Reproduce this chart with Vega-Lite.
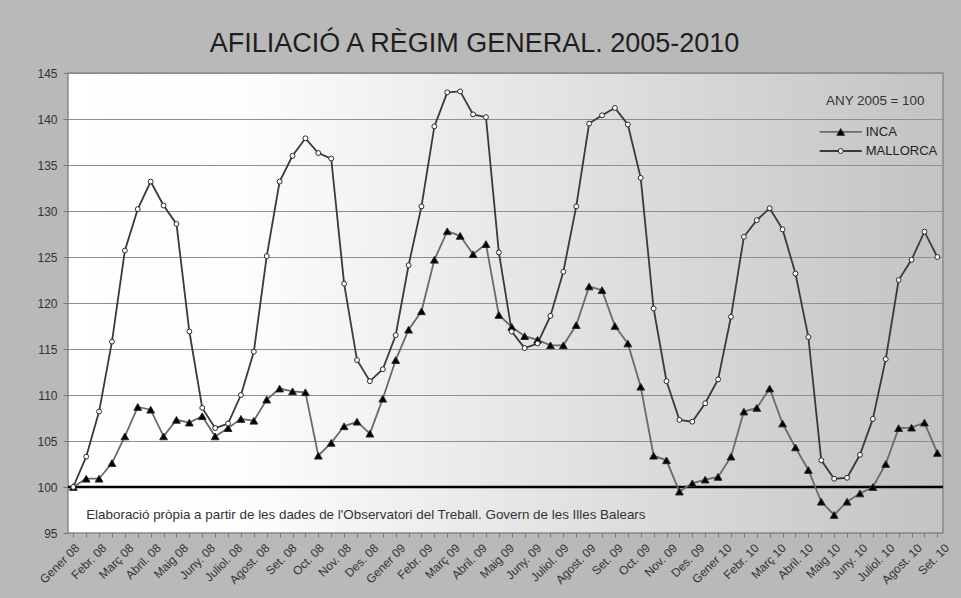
{
  "$schema": "https://vega.github.io/schema/vega-lite/v6.json",
  "width": 875,
  "height": 460,
  "autosize": "none",
  "padding": {"left": 68, "top": 73, "right": 18, "bottom": 65},
  "background": "#b9b9b9",
  "title": {
    "text": "AFILIACIÓ A RÈGIM GENERAL. 2005-2010",
    "font": "Liberation Sans",
    "fontSize": 27,
    "fontWeight": "normal",
    "color": "#1e1e1e",
    "anchor": "middle",
    "dx": -31,
    "offset": 9
  },
  "view": {
    "fill": {
      "gradient": "linear", "x1": 0, "y1": 0, "x2": 1, "y2": 0,
      "stops": [
        {"offset": 0, "color": "#ffffff"},
        {"offset": 0.2, "color": "#fdfdfd"},
        {"offset": 1, "color": "#c3c3c3"}
      ]
    },
    "stroke": "#8a8a8a",
    "strokeWidth": 1.5
  },
  "config": {
    "axisY": {
      "grid": true, "gridColor": "#8f8f8f", "gridWidth": 1,
      "domain": false, "tickColor": "#777777", "tickSize": 5,
      "labelFont": "Liberation Sans", "labelFontSize": 12, "labelColor": "#333333",
      "labelPadding": 6, "tickCount": 10
    }
  },
  "data": {
    "values": [
      {"mes": 0, "INCA": 100.0, "MALLORCA": 100.0},
      {"mes": 1, "INCA": 100.9, "MALLORCA": 103.3},
      {"mes": 2, "INCA": 100.9, "MALLORCA": 108.2},
      {"mes": 3, "INCA": 102.6, "MALLORCA": 115.8},
      {"mes": 4, "INCA": 105.5, "MALLORCA": 125.7},
      {"mes": 5, "INCA": 108.7, "MALLORCA": 130.2},
      {"mes": 6, "INCA": 108.4, "MALLORCA": 133.2},
      {"mes": 7, "INCA": 105.5, "MALLORCA": 130.6},
      {"mes": 8, "INCA": 107.3, "MALLORCA": 128.6},
      {"mes": 9, "INCA": 107.0, "MALLORCA": 116.9},
      {"mes": 10, "INCA": 107.7, "MALLORCA": 108.6},
      {"mes": 11, "INCA": 105.5, "MALLORCA": 106.4},
      {"mes": 12, "INCA": 106.4, "MALLORCA": 106.9},
      {"mes": 13, "INCA": 107.4, "MALLORCA": 110.0},
      {"mes": 14, "INCA": 107.2, "MALLORCA": 114.7},
      {"mes": 15, "INCA": 109.5, "MALLORCA": 125.1},
      {"mes": 16, "INCA": 110.7, "MALLORCA": 133.2},
      {"mes": 17, "INCA": 110.4, "MALLORCA": 136.0},
      {"mes": 18, "INCA": 110.3, "MALLORCA": 137.9},
      {"mes": 19, "INCA": 103.4, "MALLORCA": 136.3},
      {"mes": 20, "INCA": 104.8, "MALLORCA": 135.7},
      {"mes": 21, "INCA": 106.6, "MALLORCA": 122.1},
      {"mes": 22, "INCA": 107.1, "MALLORCA": 113.8},
      {"mes": 23, "INCA": 105.8, "MALLORCA": 111.5},
      {"mes": 24, "INCA": 109.6, "MALLORCA": 112.8},
      {"mes": 25, "INCA": 113.8, "MALLORCA": 116.5},
      {"mes": 26, "INCA": 117.1, "MALLORCA": 124.1},
      {"mes": 27, "INCA": 119.1, "MALLORCA": 130.5},
      {"mes": 28, "INCA": 124.7, "MALLORCA": 139.2},
      {"mes": 29, "INCA": 127.8, "MALLORCA": 142.9},
      {"mes": 30, "INCA": 127.3, "MALLORCA": 143.0},
      {"mes": 31, "INCA": 125.3, "MALLORCA": 140.5},
      {"mes": 32, "INCA": 126.4, "MALLORCA": 140.2},
      {"mes": 33, "INCA": 118.7, "MALLORCA": 125.5},
      {"mes": 34, "INCA": 117.4, "MALLORCA": 116.9},
      {"mes": 35, "INCA": 116.4, "MALLORCA": 115.1},
      {"mes": 36, "INCA": 116.0, "MALLORCA": 115.6},
      {"mes": 37, "INCA": 115.4, "MALLORCA": 118.6},
      {"mes": 38, "INCA": 115.4, "MALLORCA": 123.4},
      {"mes": 39, "INCA": 117.6, "MALLORCA": 130.5},
      {"mes": 40, "INCA": 121.8, "MALLORCA": 139.5},
      {"mes": 41, "INCA": 121.4, "MALLORCA": 140.4},
      {"mes": 42, "INCA": 117.5, "MALLORCA": 141.2},
      {"mes": 43, "INCA": 115.6, "MALLORCA": 139.4},
      {"mes": 44, "INCA": 110.9, "MALLORCA": 133.6},
      {"mes": 45, "INCA": 103.4, "MALLORCA": 119.4},
      {"mes": 46, "INCA": 102.9, "MALLORCA": 111.5},
      {"mes": 47, "INCA": 99.5, "MALLORCA": 107.3},
      {"mes": 48, "INCA": 100.4, "MALLORCA": 107.1},
      {"mes": 49, "INCA": 100.8, "MALLORCA": 109.1},
      {"mes": 50, "INCA": 101.1, "MALLORCA": 111.7},
      {"mes": 51, "INCA": 103.3, "MALLORCA": 118.5},
      {"mes": 52, "INCA": 108.2, "MALLORCA": 127.2},
      {"mes": 53, "INCA": 108.6, "MALLORCA": 129.0},
      {"mes": 54, "INCA": 110.7, "MALLORCA": 130.3},
      {"mes": 55, "INCA": 106.9, "MALLORCA": 128.0},
      {"mes": 56, "INCA": 104.3, "MALLORCA": 123.2},
      {"mes": 57, "INCA": 101.85, "MALLORCA": 116.3},
      {"mes": 58, "INCA": 98.4, "MALLORCA": 102.9},
      {"mes": 59, "INCA": 96.96, "MALLORCA": 100.9},
      {"mes": 60, "INCA": 98.4, "MALLORCA": 101.0},
      {"mes": 61, "INCA": 99.3, "MALLORCA": 103.5},
      {"mes": 62, "INCA": 100.0, "MALLORCA": 107.4},
      {"mes": 63, "INCA": 102.5, "MALLORCA": 113.9},
      {"mes": 64, "INCA": 106.4, "MALLORCA": 122.5},
      {"mes": 65, "INCA": 106.45, "MALLORCA": 124.7},
      {"mes": 66, "INCA": 107.0, "MALLORCA": 127.75},
      {"mes": 67, "INCA": 103.7, "MALLORCA": 125.0}
    ]
  },
  "transform": [{"fold": ["INCA", "MALLORCA"], "as": ["serie", "valor"]}],
  "resolve": {"axis": {"x": "independent"}},
  "layer": [
    {
      "data": {"values": [{}]},
      "mark": {"type": "rule", "color": "#000000", "strokeWidth": 2.5},
      "encoding": {
        "y": {"datum": 100, "type": "quantitative", "scale": {"domain": [95, 145], "nice": false, "zero": false}, "axis": {"title": null}}
      }
    },
    {
      "mark": {"type": "line", "strokeWidth": 1.8},
      "encoding": {
        "x": {
          "field": "mes", "type": "quantitative",
          "scale": {"domain": [-0.41, 67.44], "nice": false, "zero": false},
          "axis": {"orient": "bottom", "title": null, "labels": false, "grid": false, "domain": false, "ticks": true, "tickCount": 68, "tickSize": 4, "tickColor": "#777777"}
        },
        "y": {"field": "valor", "type": "quantitative", "scale": {"domain": [95, 145], "nice": false, "zero": false}, "axis": {"title": null}},
        "color": {
          "field": "serie", "type": "nominal",
          "scale": {"domain": ["INCA", "MALLORCA"], "range": ["#6a6a6a", "#3a3a3a"]},
          "legend": null
        }
      }
    },
    {
      "mark": {"type": "point", "filled": true, "strokeWidth": 1, "stroke": "#2a2a2a", "opacity": 1},
      "encoding": {
        "x": {
          "field": "mes", "type": "quantitative",
          "axis": {
            "orient": "bottom", "title": null, "grid": false, "domain": false, "ticks": false,
            "values": [0, 2.1075, 4.215, 6.3225, 8.43, 10.5375, 12.645, 14.7525, 16.86, 18.9675, 21.075, 23.1825, 25.29, 27.3975, 29.505, 31.6125, 33.72, 35.8275, 37.935, 40.0425, 42.15, 44.2575, 46.365, 48.4725, 50.58, 52.6875, 54.795, 56.9025, 59.01, 61.1175, 63.225, 65.3325, 67.44],
            "labelExpr": "['Gener 08','Febr. 08','Març 08','Abril. 08','Maig 08','Juny. 08','Juliol. 08','Agost. 08','Set. 08','Oct. 08','Nov. 08','Des. 08','Gener 09','Febr. 09','Març 09','Abril. 09','Maig 09','Juny. 09','Juliol. 09','Agost. 09','Set. 09','Oct. 09','Nov. 09','Des. 09','Gener 10','Febr. 10','Març 10','Abril. 10','Maig 10','Juny. 10','Juliol. 10','Agost. 10','Set. 10'][round(datum.value / 2.1075)]",
            "labelAngle": -45, "labelAlign": "right", "labelBaseline": "top", "labelPadding": 9,
            "labelOverlap": false, "labelBound": false, "labelFlush": false,
            "labelFont": "Liberation Sans", "labelFontSize": 12, "labelColor": "#333333"
          }
        },
        "y": {"field": "valor", "type": "quantitative", "axis": {"title": null}},
        "shape": {"field": "serie", "type": "nominal", "scale": {"domain": ["INCA", "MALLORCA"], "range": ["triangle-up", "circle"]}, "legend": null},
        "fill": {"field": "serie", "type": "nominal", "scale": {"domain": ["INCA", "MALLORCA"], "range": ["#000000", "#ffffff"]}, "legend": null},
        "size": {"field": "serie", "type": "nominal", "scale": {"domain": ["INCA", "MALLORCA"], "range": [60, 24]}, "legend": null}
      }
    },
    {
      "data": {"values": [{"nota": "Elaboració pròpia a partir de les dades de l'Observatori del Treball. Govern de les Illes Balears"}]},
      "mark": {"type": "text", "align": "left", "baseline": "middle", "font": "Liberation Sans", "fontSize": 13.4, "color": "#333333"},
      "encoding": {
        "x": {"datum": 1, "type": "quantitative", "axis": null},
        "y": {"datum": 97, "type": "quantitative", "axis": {"title": null}},
        "text": {"field": "nota"}
      }
    },
    {
      "data": {"values": [{"nota": "ANY 2005 = 100"}]},
      "mark": {"type": "text", "align": "right", "baseline": "middle", "font": "Liberation Sans", "fontSize": 13.4, "color": "#333333"},
      "encoding": {
        "x": {"datum": 66, "type": "quantitative", "axis": null},
        "y": {"datum": 142, "type": "quantitative", "axis": {"title": null}},
        "text": {"field": "nota"}
      }
    },
    {
      "data": {"values": [{}]},
      "mark": {"type": "rule", "color": "#6a6a6a", "strokeWidth": 1.8},
      "encoding": {
        "x": {"datum": 57.88, "type": "quantitative", "axis": null},
        "x2": {"datum": 61.14},
        "y": {"datum": 138.59, "type": "quantitative", "axis": {"title": null}}
      }
    },
    {
      "data": {"values": [{}]},
      "mark": {"type": "point", "shape": "triangle-up", "filled": true, "fill": "#000000", "stroke": "#2a2a2a", "strokeWidth": 1, "size": 60, "opacity": 1},
      "encoding": {
        "x": {"datum": 59.51, "type": "quantitative", "axis": null},
        "y": {"datum": 138.59, "type": "quantitative", "axis": {"title": null}}
      }
    },
    {
      "data": {"values": [{"nom": "INCA"}]},
      "mark": {"type": "text", "align": "left", "baseline": "middle", "font": "Liberation Sans", "fontSize": 13, "color": "#222222"},
      "encoding": {
        "x": {"datum": 61.45, "type": "quantitative", "axis": null},
        "y": {"datum": 138.59, "type": "quantitative", "axis": {"title": null}},
        "text": {"field": "nom"}
      }
    },
    {
      "data": {"values": [{}]},
      "mark": {"type": "rule", "color": "#3a3a3a", "strokeWidth": 1.8},
      "encoding": {
        "x": {"datum": 57.88, "type": "quantitative", "axis": null},
        "x2": {"datum": 61.14},
        "y": {"datum": 136.52, "type": "quantitative", "axis": {"title": null}}
      }
    },
    {
      "data": {"values": [{}]},
      "mark": {"type": "point", "shape": "circle", "filled": true, "fill": "#ffffff", "stroke": "#2a2a2a", "strokeWidth": 1, "size": 24, "opacity": 1},
      "encoding": {
        "x": {"datum": 59.51, "type": "quantitative", "axis": null},
        "y": {"datum": 136.52, "type": "quantitative", "axis": {"title": null}}
      }
    },
    {
      "data": {"values": [{"nom": "MALLORCA"}]},
      "mark": {"type": "text", "align": "left", "baseline": "middle", "font": "Liberation Sans", "fontSize": 13, "color": "#222222"},
      "encoding": {
        "x": {"datum": 61.45, "type": "quantitative", "axis": null},
        "y": {"datum": 136.52, "type": "quantitative", "axis": {"title": null}},
        "text": {"field": "nom"}
      }
    }
  ]
}
